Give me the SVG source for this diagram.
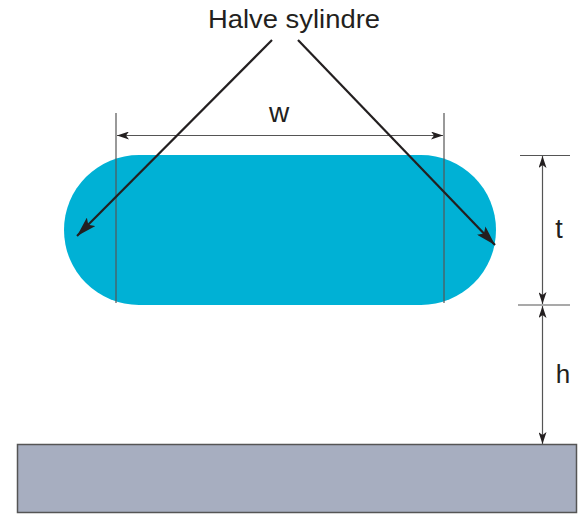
<svg xmlns="http://www.w3.org/2000/svg" width="582" height="516" viewBox="0 0 582 516">
<style>
.dim{stroke:#555;stroke-width:1.2;fill:none}
.ptr{stroke:#231f20;stroke-width:2.2;fill:none}
.lbl{font-family:"Liberation Sans",Arial,sans-serif;fill:#231f20}
</style>
<defs>
<marker id="da" viewBox="0 0 12 8" refX="12" refY="4" markerWidth="12" markerHeight="8" markerUnits="userSpaceOnUse" orient="auto-start-reverse"><path d="M0,0 L12,4 L0,8 L3,4 Z" fill="#231f20"/></marker>
<marker id="pa" viewBox="0 0 20 12" refX="20" refY="6" markerWidth="20" markerHeight="12" markerUnits="userSpaceOnUse" orient="auto"><path d="M0,0 L20,6 L0,12 L4,6 Z" fill="#231f20"/></marker>
</defs>
<g id="cylinder">
<path d="M139,155 L421,155 A75,75 0 0 1 421,305 L139,305 A75,75 0 0 1 139,155 Z" fill="#00b1d5"/>
</g>
<g id="base">
<rect x="17.5" y="444.5" width="559" height="68" fill="#a7aec0" stroke="#555" stroke-width="1.5"/>
</g>
<g id="label-halve">
<text class="lbl" x="294" y="28" font-size="26" text-anchor="middle" textLength="172" lengthAdjust="spacingAndGlyphs">Halve sylindre</text>
</g>
<g id="label-w"><text class="lbl" x="279" y="122" font-size="28" text-anchor="middle">w</text></g>
<g id="label-t"><text class="lbl" x="559" y="238" font-size="27" text-anchor="middle">t</text></g>
<g id="label-h"><text class="lbl" x="563" y="383" font-size="26" text-anchor="middle">h</text></g>
<g id="connectors">
<line class="dim" x1="116" y1="113" x2="116" y2="303"/>
<line class="dim" x1="444" y1="113" x2="444" y2="303"/>
<line class="dim" x1="117" y1="135.5" x2="443" y2="135.5" marker-start="url(#da)" marker-end="url(#da)"/>
<line class="dim" x1="520" y1="155.5" x2="570" y2="155.5"/>
<line class="dim" x1="518" y1="305" x2="570" y2="305"/>
<line class="dim" x1="542.5" y1="156" x2="542.5" y2="304" marker-start="url(#da)" marker-end="url(#da)"/>
<line class="dim" x1="542.5" y1="306" x2="542.5" y2="444" marker-start="url(#da)" marker-end="url(#da)"/>
<line class="ptr" x1="272" y1="40" x2="77" y2="236" marker-end="url(#pa)"/>
<line class="ptr" x1="298" y1="40" x2="495" y2="245" marker-end="url(#pa)"/>
</g>
</svg>
